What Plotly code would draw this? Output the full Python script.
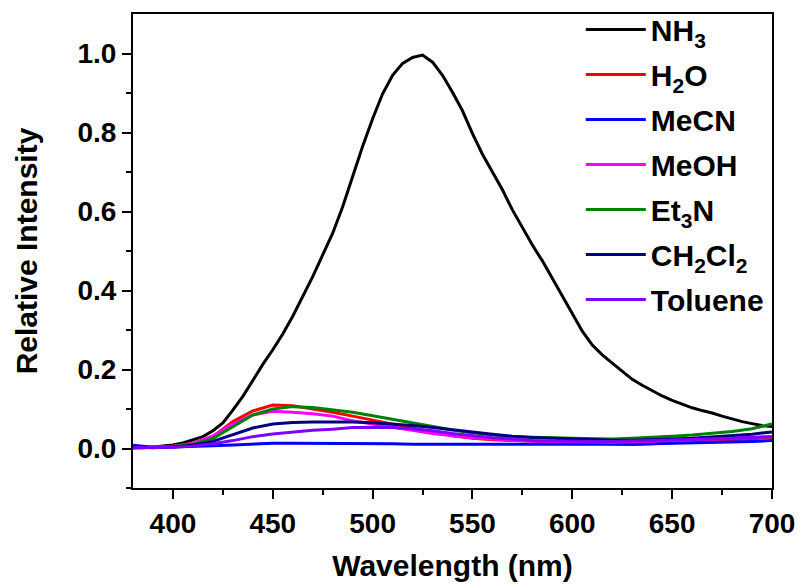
import plotly.graph_objects as go

wl_nh3 = list(range(380, 701, 5))
nh3 = [0.003, 0.002, 0.004, 0.006, 0.009, 0.014, 0.022, 0.030, 0.045, 0.065,
       0.097, 0.132, 0.172, 0.213, 0.250, 0.290, 0.335, 0.385, 0.435, 0.490,
       0.545, 0.612, 0.690, 0.765, 0.835, 0.898, 0.945, 0.975, 0.990, 0.996,
       0.978, 0.945, 0.902, 0.855, 0.797, 0.745, 0.700, 0.655, 0.604, 0.560,
       0.515, 0.475, 0.430, 0.385, 0.340, 0.297, 0.262, 0.237, 0.216, 0.195,
       0.175, 0.160, 0.146, 0.133, 0.122, 0.112, 0.103, 0.096, 0.090, 0.082,
       0.075, 0.068, 0.063, 0.058, 0.056]

wl = list(range(380, 701, 10))
h2o = [0.002, 0.003, 0.006, 0.013, 0.030, 0.068, 0.095, 0.110, 0.108, 0.100,
       0.092, 0.082, 0.072, 0.062, 0.053, 0.042, 0.032, 0.026, 0.022, 0.020,
       0.018, 0.016, 0.015, 0.013, 0.012, 0.010, 0.012, 0.015, 0.018, 0.020,
       0.022, 0.025, 0.028]
mecn = [0.008, 0.003, 0.004, 0.005, 0.007, 0.009, 0.011, 0.013, 0.013, 0.013,
        0.013, 0.013, 0.012, 0.012, 0.011, 0.011, 0.010, 0.010, 0.010, 0.010,
        0.010, 0.010, 0.010, 0.010, 0.010, 0.011, 0.012, 0.013, 0.014, 0.015,
        0.017, 0.018, 0.020]
meoh = [0.002, 0.003, 0.006, 0.013, 0.032, 0.062, 0.085, 0.094, 0.092, 0.088,
        0.082, 0.070, 0.062, 0.054, 0.046, 0.038, 0.032, 0.027, 0.024, 0.021,
        0.019, 0.018, 0.017, 0.016, 0.016, 0.017, 0.018, 0.020, 0.022, 0.024,
        0.026, 0.028, 0.030]
et3n = [0.001, 0.003, 0.005, 0.011, 0.025, 0.055, 0.085, 0.100, 0.106, 0.104,
        0.098, 0.092, 0.083, 0.074, 0.065, 0.056, 0.047, 0.040, 0.034, 0.030,
        0.028, 0.027, 0.026, 0.025, 0.024, 0.026, 0.028, 0.031, 0.034, 0.038,
        0.043, 0.050, 0.062]
ch2cl2 = [0.004, 0.002, 0.004, 0.008, 0.018, 0.035, 0.052, 0.062, 0.066, 0.067,
          0.067, 0.067, 0.065, 0.062, 0.058, 0.053, 0.048, 0.042, 0.036, 0.031,
          0.028, 0.026, 0.024, 0.022, 0.021, 0.021, 0.022, 0.024, 0.026, 0.029,
          0.032, 0.036, 0.042]
toluene = [0.002, 0.002, 0.003, 0.006, 0.012, 0.020, 0.030, 0.037, 0.042, 0.046,
           0.049, 0.053, 0.054, 0.053, 0.050, 0.045, 0.038, 0.032, 0.027, 0.024,
           0.020, 0.019, 0.018, 0.018, 0.018, 0.019, 0.020, 0.021, 0.022, 0.024,
           0.026, 0.028, 0.030]

names = ["NH<sub>3</sub>", "H<sub>2</sub>O", "MeCN", "MeOH", "Et<sub>3</sub>N",
         "CH<sub>2</sub>Cl<sub>2</sub>", "Toluene"]
colors = ["#000000", "#FF0000", "#0000FF", "#FF00FF", "#008000", "#000080", "#8000FF"]
xs = [wl_nh3, wl, wl, wl, wl, wl, wl]
ys = [nh3, h2o, mecn, meoh, et3n, ch2cl2, toluene]

FONT = "Arial, Liberation Sans, sans-serif"

fig = go.Figure()
for i, (n, c, x, y) in enumerate(zip(names, colors, xs, ys)):
    fig.add_trace(go.Scatter(x=x, y=y, mode="lines", name=n,
                             line=dict(color=c, width=3),
                             legendgroup=f"g{i}"))

axis_common = dict(
    showline=True, linecolor="black", linewidth=2, mirror=True,
    ticks="outside", ticklen=9, tickwidth=2, tickcolor="black",
    showgrid=False, zeroline=False, automargin=False,
    tickfont=dict(family=FONT, size=28, color="black", weight="bold"),
)

fig.update_layout(
    width=801, height=587,
    margin=dict(l=133, r=29, t=14, b=99, autoexpand=False),
    paper_bgcolor="white", plot_bgcolor="white",
    showlegend=True,
    legend=dict(x=0.995, xanchor="right", y=1.022, yanchor="top",
                bgcolor="rgba(0,0,0,0)", borderwidth=0, maxheight=1000,
                font=dict(family=FONT, size=30, color="black", weight="bold"),
                itemwidth=60, tracegroupgap=3),
    xaxis=dict(range=[380, 700], tickvals=[400, 450, 500, 550, 600, 650, 700],
               minor=dict(ticks="outside", ticklen=5, tickwidth=2, tickcolor="black",
                          tickvals=[425, 475, 525, 575, 625, 675]),
               title=dict(text="Wavelength (nm)", standoff=17,
                          font=dict(family=FONT, size=30, color="black", weight="bold")),
               **axis_common),
    yaxis=dict(range=[-0.1, 1.1], tickvals=[0.0, 0.2, 0.4, 0.6, 0.8, 1.0],
               tickformat=".1f",
               minor=dict(ticks="outside", ticklen=5, tickwidth=2, tickcolor="black",
                          tickvals=[-0.1, 0.1, 0.3, 0.5, 0.7, 0.9]),
               title=dict(text="Relative Intensity", standoff=31,
                          font=dict(family=FONT, size=30, color="black", weight="bold")),
               **axis_common),
)

fig.write_html("out.html")
